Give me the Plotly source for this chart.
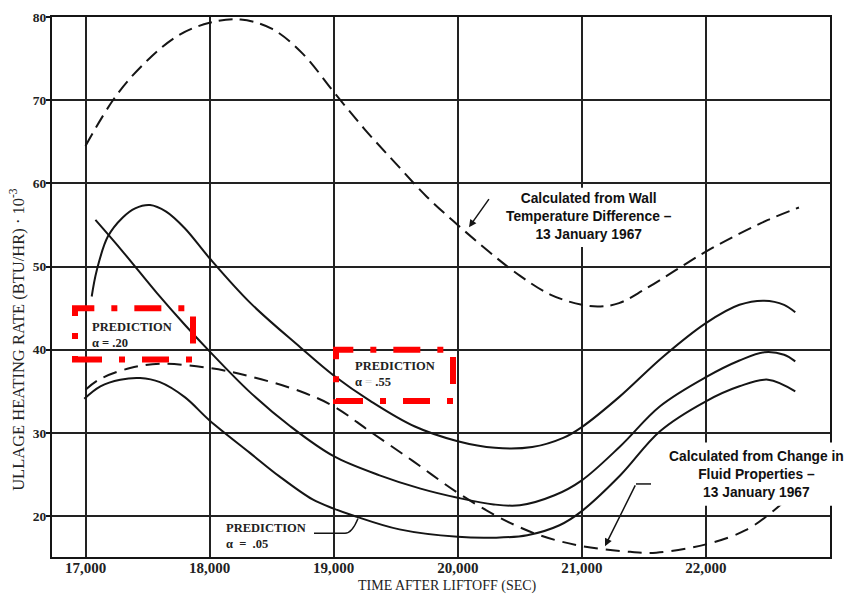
import plotly.graph_objects as go

# ---------------- data ----------------
x_ticks = [17000, 18000, 19000, 20000, 21000, 22000]
x_tick_labels = ["17,000", "18,000", "19,000", "20,000", "21,000", "22,000"]
y_ticks = [20, 30, 40, 50, 60, 70, 80]
y_tick_labels = ["20", "30", "40", "50", "60", "70", "80"]

# Calculated from wall temperature difference (upper dashed)
wall_x = [17000, 17250, 17500, 17750, 18000, 18250, 18500, 18750, 19000, 19250,
          19500, 19750, 20000, 20250, 20500, 20750, 21000, 21150, 21300, 21500,
          21750, 22000, 22250, 22500, 22750]
wall_y = [64.5, 70.6, 74.8, 77.8, 79.3, 79.7, 78.6, 75.6, 71.0, 66.5,
          62.4, 58.4, 55.0, 51.8, 48.9, 46.6, 45.4, 45.2, 45.6, 47.2,
          49.5, 51.8, 53.8, 55.6, 57.1]

# Upper solid prediction curve (peak ~57.5)
upper_x = [17050, 17090, 17180, 17300, 17400, 17520, 17650, 17800, 18000, 18330,
           18730, 19000, 19300, 19650, 20000, 20300, 20600, 20850, 21000, 21300,
           21650, 22000, 22270, 22470, 22630, 22720]
upper_y = [46.4, 49.5, 53.6, 55.9, 57.0, 57.4, 56.6, 54.6, 51.0, 45.6,
           40.3, 36.9, 33.8, 30.8, 29.0, 28.2, 28.3, 29.4, 30.7, 34.3,
           39.1, 43.2, 45.4, 45.9, 45.4, 44.5]

# Middle solid prediction curve (starts ~55.6)
middle_x = [17080, 17300, 17576, 17800, 18000, 18325, 18650, 19000, 19370, 19700,
            20000, 20290, 20500, 20780, 21000, 21310, 21630, 22000, 22270, 22470,
            22630, 22720]
middle_y = [55.6, 51.8, 46.8, 43.0, 39.8, 34.9, 30.8, 27.2, 24.9, 23.3,
            22.2, 21.4, 21.3, 22.5, 24.3, 28.4, 33.2, 36.7, 38.7, 39.7,
            39.4, 38.6]

# Lower solid prediction curve (alpha = .05)
lower_x = [16990, 17120, 17280, 17440, 17600, 17800, 18000, 18325, 18560, 18830,
           19000, 19150, 19530, 20000, 20290, 20560, 20820, 21000, 21310, 21630,
           22000, 22270, 22500, 22720]
lower_y = [34.1, 35.6, 36.4, 36.6, 36.1, 34.3, 31.5, 27.6, 24.8, 22.0,
           20.9, 20.1, 18.4, 17.5, 17.4, 17.7, 18.9, 20.6, 24.9, 30.2,
           33.8, 35.6, 36.4, 35.0]

# Calculated from change in fluid properties (lower dashed)
fluid_x = [17000, 17120, 17360, 17600, 18000, 18325, 18730, 19000, 19290, 19640,
           20000, 20340, 20660, 21000, 21390, 21600, 22000, 22320, 22550, 22720]
fluid_y = [35.2, 36.5, 37.8, 38.3, 37.8, 36.8, 35.0, 33.2, 30.2, 26.6,
           22.8, 19.8, 17.7, 16.4, 15.7, 15.6, 16.6, 18.3, 20.7, 23.0]

# ---------------- layout geometry ----------------
W, H = 847, 597
ML, MR, MT, MB = 52, 17, 10, 40
X0, X1 = 16730, 23000
Y0, Y1 = 15.08, 80
PW, PH = W - ML - MR, H - MT - MB


def dx(px):
    return X0 + (px - ML) / PW * (X1 - X0)


def dy(py):
    return Y1 - (py - MT) / PH * (Y1 - Y0)


def paper_x(px):
    return (px - ML) / PW


def paper_y(py):
    return (H - MB - py) / PH


INK = "#151515"
fig = go.Figure()

series = [
    (wall_x, wall_y, "14px,7px"),
    (upper_x, upper_y, "solid"),
    (middle_x, middle_y, "solid"),
    (lower_x, lower_y, "solid"),
    (fluid_x, fluid_y, "14px,8px"),
]
for xs, ys, dash in series:
    fig.add_trace(go.Scatter(
        x=xs, y=ys, mode="lines", showlegend=False, hoverinfo="skip",
        line=dict(color=INK, width=2, dash=dash, shape="spline", smoothing=1.0),
    ))

serif = "Liberation Serif"
axis_common = dict(
    showgrid=True, gridcolor="#222", gridwidth=1.5,
    showline=True, linecolor=INK, linewidth=2, mirror=True,
    zeroline=False,
)

fig.update_layout(
    width=W, height=H,
    margin=dict(l=ML, r=MR, t=MT, b=MB),
    paper_bgcolor="white", plot_bgcolor="white",
    xaxis=dict(range=[X0, X1], tickvals=x_ticks, ticktext=x_tick_labels,
               ticks="", ticklabelstandoff=-4,
               tickfont=dict(family=serif, size=15, color="#222", weight="bold"),
               **axis_common),
    yaxis=dict(range=[Y0, Y1], tickvals=y_ticks, ticktext=y_tick_labels,
               ticks="outside", ticklen=4, tickwidth=1.5, tickcolor=INK,
               ticklabelstandoff=-3,
               tickfont=dict(family=serif, size=13.5, color="#222", weight="bold"),
               **axis_common),
)

annotations = []
# axis titles
annotations.append(dict(
    xref="paper", yref="paper", x=paper_x(447), y=paper_y(586),
    text="TIME AFTER LIFTOFF (SEC)", showarrow=False,
    font=dict(family=serif, size=14, color="#222"), xanchor="center", yanchor="middle"))
annotations.append(dict(
    xref="paper", yref="paper", x=paper_x(18), y=paper_y(337),
    text="ULLAGE HEATING RATE (BTU/HR) · 10<sup>-3</sup>", showarrow=False, textangle=-90,
    font=dict(family=serif, size=16.5, color="#222"), xanchor="center", yanchor="middle"))

# prediction labels
pred_font = dict(family=serif, size=12.5, color="#222", weight="bold")
annotations.append(dict(
    x=dx(90), y=dy(332), text="PREDICTION<br>α = .20", showarrow=False, align="left",
    xanchor="left", yanchor="middle", font=pred_font))
annotations.append(dict(
    x=dx(353), y=dy(372), text="PREDICTION<br>α <span style='color:#d8d8d8'>=</span> .55",
    showarrow=False, align="left", xanchor="left", yanchor="middle", font=pred_font))
annotations.append(dict(
    x=dx(224), y=dy(536), text="PREDICTION<br>α  =  .05", showarrow=False, align="left",
    xanchor="left", yanchor="middle", font=pred_font))

# calculated labels
calc_font = dict(family="Liberation Sans", size=13.8, color="#111")
annotations.append(dict(
    xref="paper", yref="paper", x=paper_x(589), y=paper_y(212),
    text="<b>Calculated from Wall<br>Temperature Difference –<br>13 January 1967</b>",
    showarrow=False, align="center", xanchor="center", yanchor="middle", font=calc_font))
annotations.append(dict(
    xref="paper", yref="paper", x=paper_x(756), y=paper_y(473),
    text="<b>Calculated from Change in<br>Fluid Properties –<br>13 January 1967</b>",
    showarrow=False, align="center", xanchor="center", yanchor="middle", font=calc_font))

# leader arrows
annotations.append(dict(
    x=dx(469), y=dy(223), ax=dx(490), ay=dy(193), axref="x", ayref="y",
    text="", showarrow=True, arrowhead=2, arrowsize=1, arrowwidth=1.5, arrowcolor=INK))
annotations.append(dict(
    x=dx(605), y=dy(546), ax=dx(636), ay=dy(483), axref="x", ayref="y",
    text="", showarrow=True, arrowhead=2, arrowsize=1, arrowwidth=1.5, arrowcolor=INK))

shapes = []
# white background boxes behind the calculated labels
shapes.append(dict(type="rect", xref="paper", yref="paper", layer="above",
                   x0=paper_x(493), x1=paper_x(684), y0=paper_y(243), y1=paper_y(183),
                   fillcolor="white", line=dict(width=0)))
shapes.append(dict(type="rect", xref="paper", yref="paper", layer="above",
                   x0=paper_x(662), x1=paper_x(847), y0=paper_y(505), y1=paper_y(441),
                   fillcolor="white", line=dict(width=0)))
# leader for fluid label (short horizontal part)
shapes.append(dict(type="line", x0=dx(636), x1=dx(651), y0=dy(483), y1=dy(483),
                   line=dict(color=INK, width=1.5), layer="above"))
# leader for alpha = .05
shapes.append(dict(type="path", layer="above",
                   path=f"M {dx(314)},{dy(533)} L {dx(345)},{dy(533)} "
                        f"Q {dx(352)},{dy(533)} {dx(358)},{dy(518)}",
                   line=dict(color=INK, width=1.5)))
# red dash-dot highlight boxes
red_line = dict(color="#FF0000", width=6, dash="27px,17px,6px,17px")
shapes.append(dict(type="rect", layer="above", x0=dx(75), x1=dx(193), y0=dy(357), y1=dy(305),
                   line=red_line))
shapes.append(dict(type="rect", layer="above", x0=dx(336), x1=dx(453), y0=dy(399), y1=dy(347),
                   line=red_line))

fig.update_layout(annotations=annotations, shapes=shapes)

fig.write_html("out.html")
